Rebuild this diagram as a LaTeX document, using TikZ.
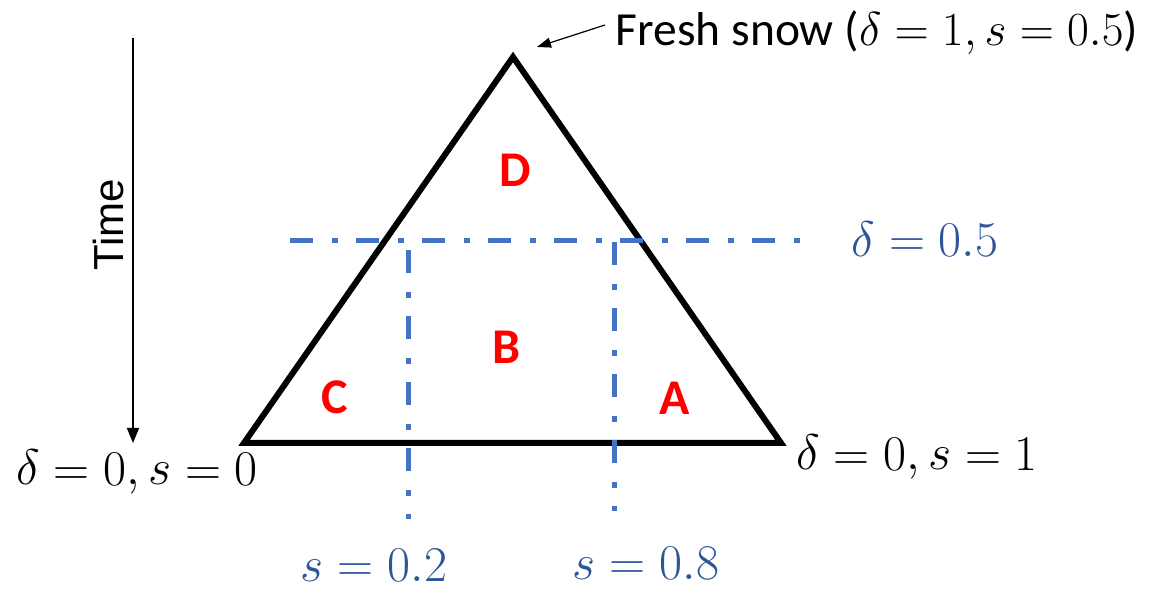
\documentclass[tikz,border=0pt]{standalone}
\usepackage{fix-cm}
\usepackage{fontspec}
\setmainfont{Carlito}
\newfontfamily\arialfont{Liberation Sans}
\usetikzlibrary{arrows.meta}
\definecolor{lineblue}{HTML}{4472C4}
\definecolor{textblue}{HTML}{2F5597}
\definecolor{labred}{HTML}{FF0000}
\begin{document}
\begin{tikzpicture}[x=1pt,y=1pt,
  tri/.style={line width=6pt,line join=miter,black},
  dashdot/.style={lineblue,line width=5pt,dash pattern=on 23pt off 19pt on 6pt off 18pt},
  region/.style={text=labred,font=\fontsize{50}{58}\selectfont\bfseries,inner sep=0pt},
  mathlab/.style={font=\fontsize{50}{58}\selectfont,inner sep=0pt,anchor=base},
  bluelab/.style={mathlab,text=textblue},
  thinarrow/.style={line width=1.5pt,-{Triangle[length=15pt,width=12pt]}}]
\useasboundingbox (0,0) rectangle (1158,589);
% triangle
\coordinate (apex) at (513,532);
\coordinate (bl) at (244,146);
\coordinate (br) at (781,146);
\draw[tri] (apex) -- (bl) -- (br) -- cycle;
% dash-dot lines
\coordinate (h1) at (290,348);
\coordinate (h2) at (803,348);
\coordinate (v1a) at (408,339);
\coordinate (v1b) at (408,70);
\coordinate (v2a) at (614,347);
\coordinate (v2b) at (614,78);
\draw[dashdot] (h1) -- (h2);
\draw[dashdot] (v1a) -- (v1b);
\draw[dashdot] (v2a) -- (v2b);
% region letters
\node[region] (D) at (515,419) {D};
\node[region] (B) at (507,242) {B};
\node[region] (C) at (335,192) {C};
\node[region] (A) at (675,191) {A};
% labels
\node[bluelab] (d05) at (925,332) {$\delta = 0.5$};
\node[bluelab] (s02) at (374,8) {$s = 0.2$};
\node[bluelab] (s08) at (646,10) {$s = 0.8$};
\node[mathlab] (l0) at (137,104) {$\delta = 0, s = 0$};
\node[mathlab] (l1) at (917,119) {$\delta = 0, s = 1$};
\node[mathlab,font=\fontsize{47.5}{55}\selectfont] (fresh) at (877,543) {Fresh snow ($\delta = 1, s = 0.5$)};
% fresh snow arrow
\coordinate (fa) at (605,564);
\coordinate (fb) at (537,542);
\draw[line width=1.2pt,-{Triangle[length=14pt,width=10pt]}] (fa) -- (fb);
% time arrow
\coordinate (ta) at (133,551);
\coordinate (tb) at (133,146);
\draw[thinarrow] (ta) -- (tb);
\node[font=\arialfont\fontsize{42}{50}\selectfont,rotate=90,inner sep=0pt] (time) at (108,364) {Time};
\end{tikzpicture}
\end{document}
